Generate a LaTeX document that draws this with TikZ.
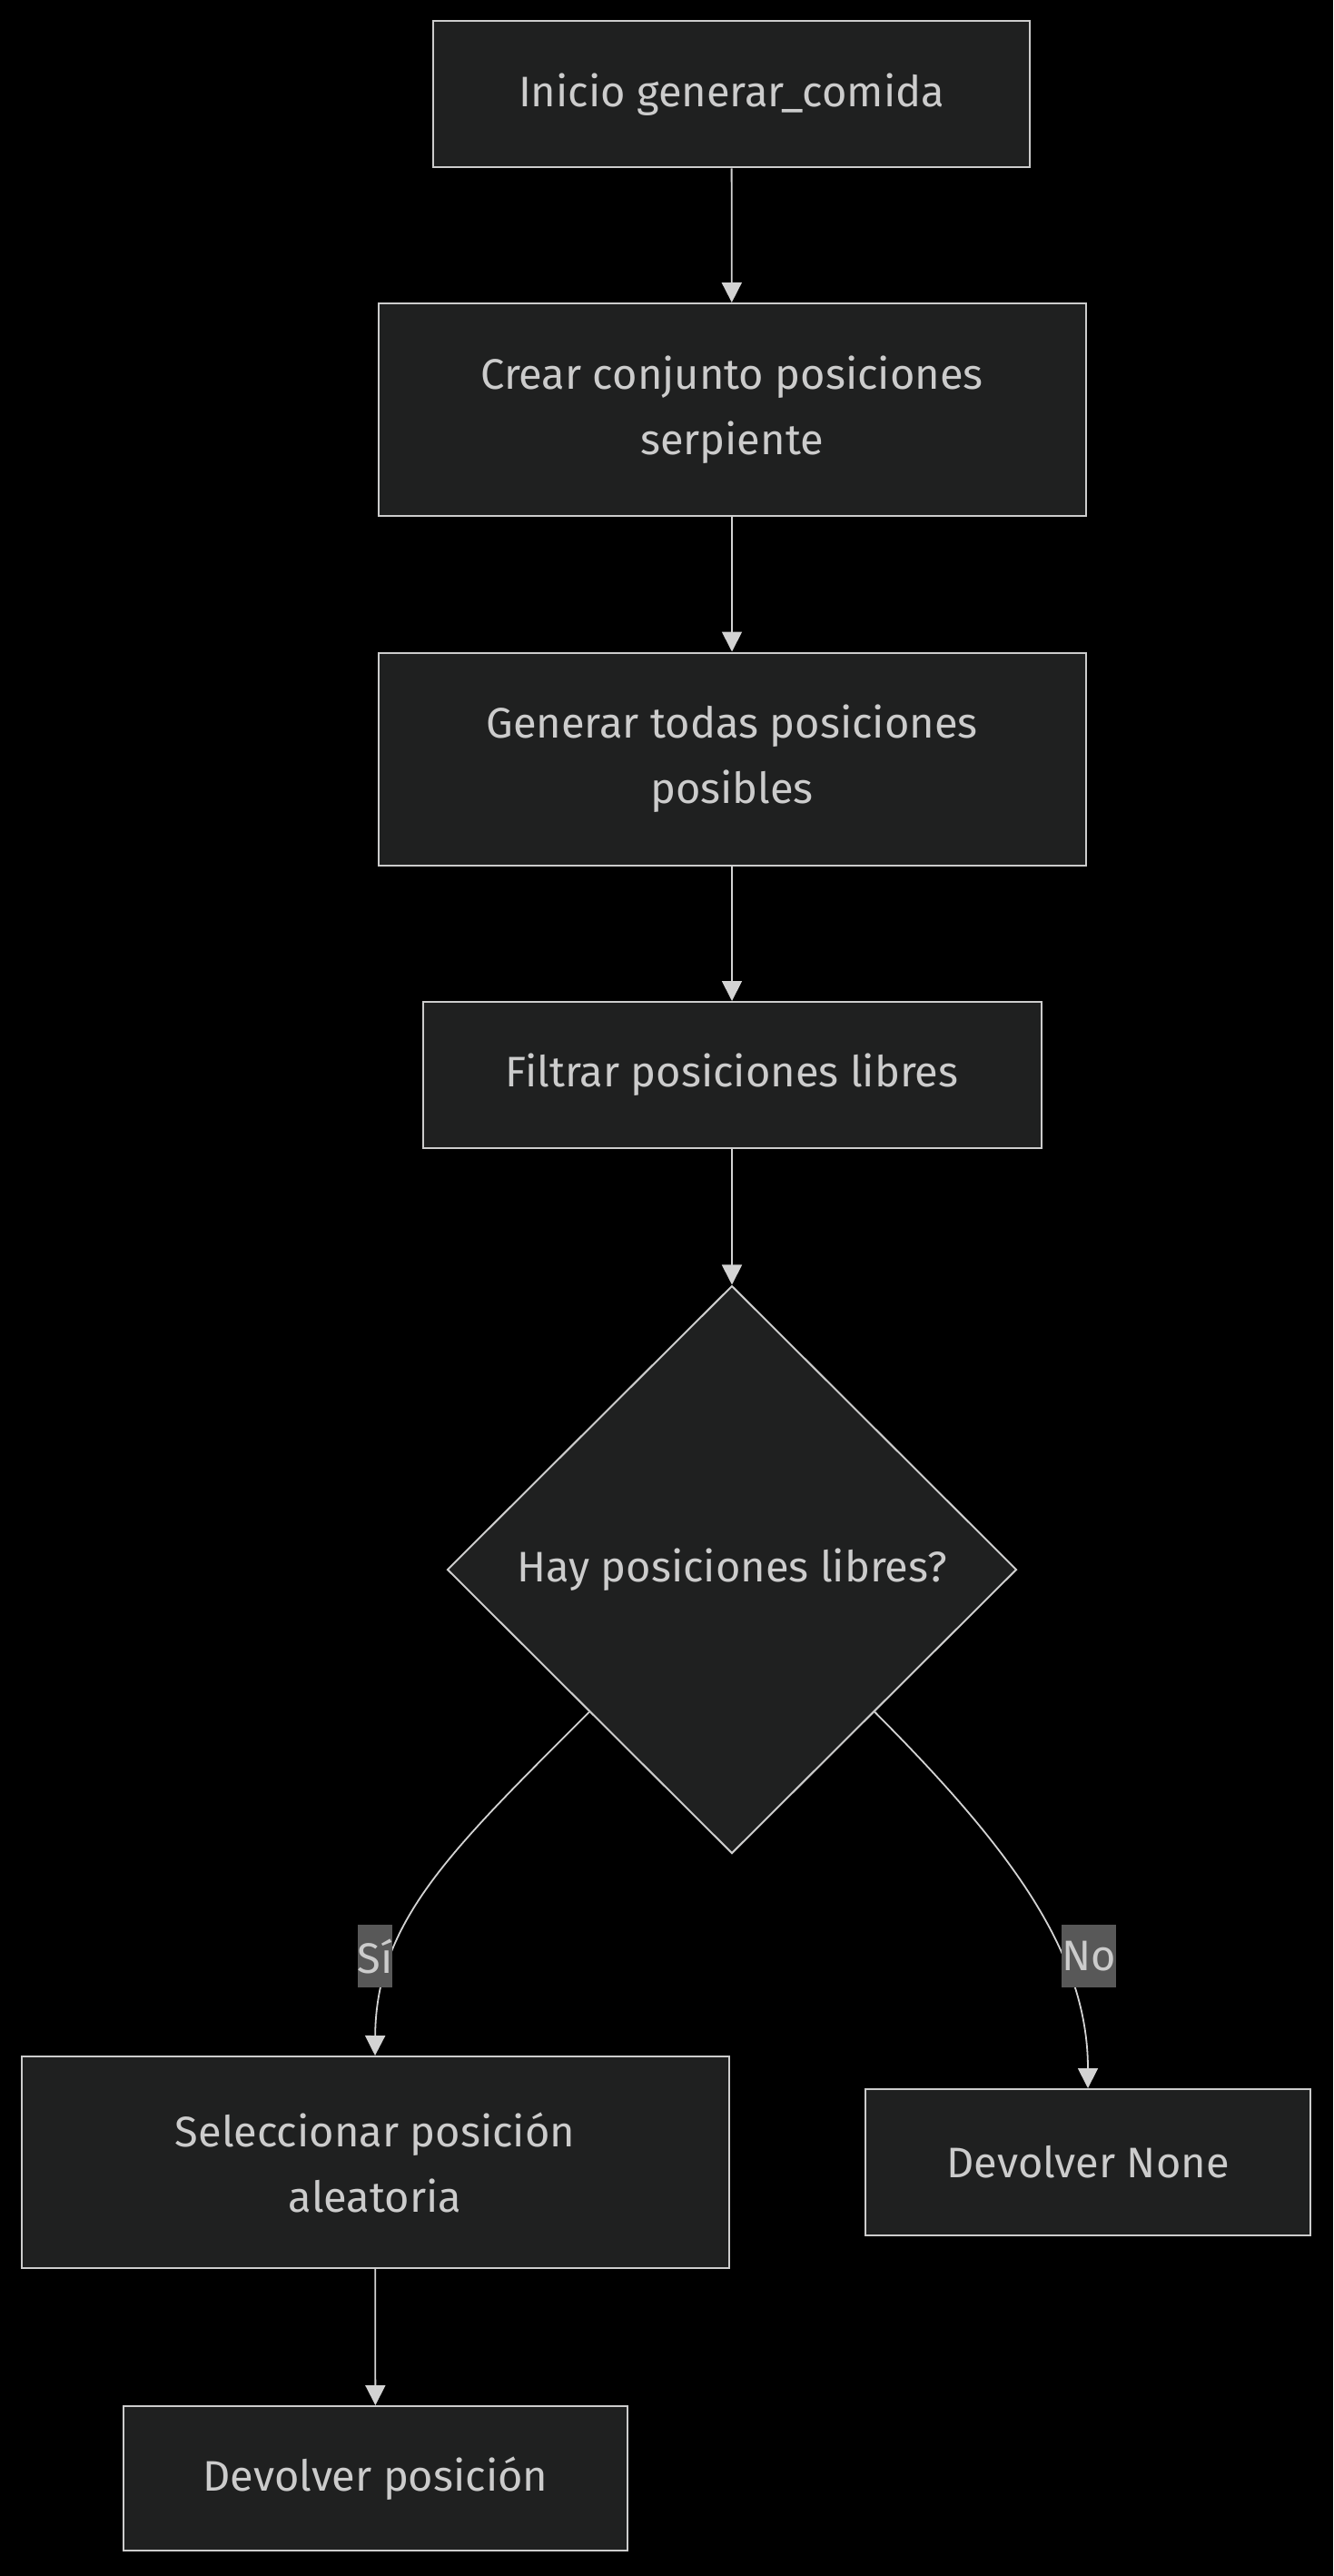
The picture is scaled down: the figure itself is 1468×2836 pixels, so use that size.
\documentclass[tikz,border=0pt]{standalone}
\usepackage{fontspec}
\setmainfont{Fira Sans}
\usetikzlibrary{arrows.meta,shapes.geometric}

\definecolor{nodefill}{HTML}{1F2020}
\definecolor{nodeline}{HTML}{CCCCCC}
\definecolor{nodetext}{HTML}{CCCCCC}
\definecolor{edgeline}{HTML}{D3D3D3}
\definecolor{labelfill}{HTML}{585858}

\tikzset{
	stepbox/.style={draw=nodeline, fill=nodefill, line width=1pt, text=nodetext,
		font=\fontsize{23.5}{36}\selectfont, align=center, inner sep=0pt},
	decision/.style={stepbox, diamond, minimum width=313.5pt, minimum height=312.5pt},
	edge/.style={draw=edgeline, line width=0.9pt, -{Triangle[length=11pt,width=11pt]}},
	edgelabel/.style={fill=labelfill, text=nodetext, font=\fontsize{23.5}{36}\selectfont,
		inner sep=0pt, minimum height=34.5pt}
}

\begin{document}
\begin{tikzpicture}[x=0.5pt, y=-0.5pt]
		\fill[black] (0,0) rectangle (1468,2836);
		\useasboundingbox (0,0) rectangle (1468,2836);
		\node[stepbox, minimum width=328.5pt, minimum height=80.5pt] (inicio) at (805.5,104) {Inicio generar\_comida};
		\node[stepbox, minimum width=389.5pt, minimum height=117pt] (conjunto) at (806,451) {Crear conjunto posiciones\\serpiente};
		\node[stepbox, minimum width=389.5pt, minimum height=117pt] (generar) at (806,835.5) {Generar todas posiciones\\posibles};
		\node[stepbox, minimum width=340.5pt, minimum height=80.5pt] (filtrar) at (806,1183.5) {Filtrar posiciones libres};
		\node[decision] (hay) at (806,1728) {Hay posiciones libres?};
		\node[stepbox, minimum width=389.5pt, minimum height=116.5pt] (seleccionar) at (413,2380.5) {Seleccionar posición\\aleatoria};
		\node[stepbox, minimum width=245pt, minimum height=80.5pt] (none) at (1198,2380.5) {Devolver None};
		\node[stepbox, minimum width=277.5pt, minimum height=79.5pt] (devolver) at (413.5,2728.5) {Devolver posición};

		\draw[edge] (inicio) -- (conjunto);
		\draw[edge] (conjunto) -- (generar);
		\draw[edge] (generar) -- (filtrar);
		\draw[edge] (filtrar) -- (hay);
		\draw[edge] (hay.south west) .. controls (499,2035) and (414,2114) .. (seleccionar.north);
		\draw[edge] (hay.south east) .. controls (1113,2035) and (1198,2150) .. (none.north);
		\draw[edge] (seleccionar) -- (devolver);

		\node[edgelabel, minimum width=17pt] (si) at (413,2153.5) {Sí};
		\node[edgelabel, minimum width=27pt] (no) at (1199,2153.5) {No};
		\end{tikzpicture}
\end{document}
